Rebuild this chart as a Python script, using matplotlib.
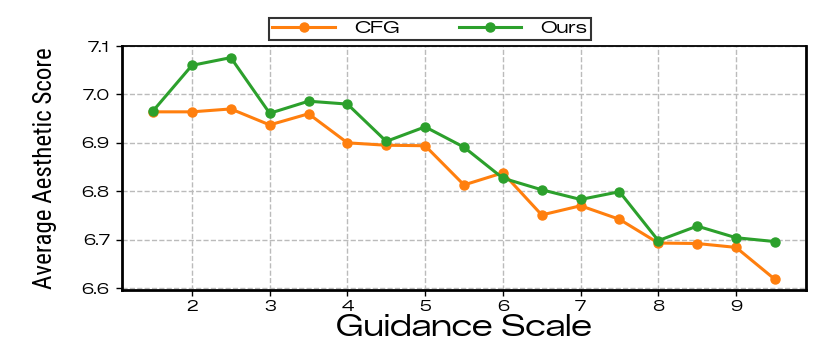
import matplotlib
matplotlib.use("Agg")
import matplotlib.pyplot as plt
from matplotlib import font_manager
from matplotlib.font_manager import FontProperties

guidance = [1.5, 2.0, 2.5, 3.0, 3.5, 4.0, 4.5, 5.0, 5.5, 6.0, 6.5, 7.0, 7.5, 8.0, 8.5, 9.0, 9.5]
cfg = [6.964, 6.964, 6.970, 6.937, 6.960, 6.900, 6.895, 6.894, 6.813, 6.838,
       6.751, 6.770, 6.742, 6.693, 6.692, 6.684, 6.618]
ours = [6.966, 7.060, 7.076, 6.961, 6.986, 6.980, 6.903, 6.933, 6.891, 6.827,
        6.803, 6.783, 6.799, 6.698, 6.728, 6.704, 6.696]
xticks = [2, 3, 4, 5, 6, 7, 8, 9]
yticks = [6.6, 6.7, 6.8, 6.9, 7.0, 7.1]


def font_file(cands, size):
    for name in cands:
        hits = [f for f in font_manager.fontManager.ttflist
                if f.name == name and f.style == "normal"]
        if hits:
            hits.sort(key=lambda f: abs((f.weight if isinstance(f.weight, int) else 400) - 400))
            return FontProperties(fname=hits[0].fname, size=size)
    return FontProperties(family="DejaVu Sans", size=size)


ylab_fp = font_file(["Roboto Condensed", "Open Sans Condensed"], 18)
xlab_fp = font_file(["Zalando Sans Expanded", "Encode Sans Expanded"], 21)
tick_fp = font_file(["Zalando Sans Expanded", "Encode Sans Expanded"], 10.5)
leg_fp = font_file(["Zalando Sans Expanded", "Encode Sans Expanded"], 12.5)

fig = plt.figure(figsize=(8.3, 3.48), dpi=100)
ax = fig.add_axes([122/830, 1 - 290/348, (806-122)/830, (290-46)/348])

ax.plot(guidance, cfg, color="#ff7f0e", lw=2.2, marker="o", ms=6.5, label="CFG", zorder=3)
ax.plot(guidance, ours, color="#2ca02c", lw=2.2, marker="o", ms=6.5, label="Ours", zorder=4)

ax.set_xlim(1.1, 9.9)
ax.set_ylim(6.596, 7.1)
ax.set_xticks(xticks)
ax.set_yticks(yticks)
ax.set_yticklabels([f"{v:.1f}" for v in yticks])
for lab in ax.get_xticklabels() + ax.get_yticklabels():
    lab.set_fontproperties(tick_fp)
ax.tick_params(length=4, width=1)
ax.tick_params(axis="y", pad=5)
ax.grid(True, linestyle="--", color="#bbbbbb", lw=1)
ax.set_axisbelow(True)
for s in ["left", "bottom", "right"]:
    ax.spines[s].set_linewidth(2)
ax.spines["top"].set_linewidth(1.3)

ax.set_xlabel("Guidance Scale", fontproperties=xlab_fp, labelpad=0)
ax.set_ylabel("Average Aesthetic Score", fontproperties=ylab_fp, labelpad=18)

leg = ax.legend(loc="lower center", bbox_to_anchor=(0.45, 1.0), ncol=2, prop=leg_fp,
                frameon=True, fancybox=False, edgecolor="black", borderaxespad=0.35,
                handlelength=3.6, handletextpad=1.1, columnspacing=3.4, borderpad=0.2)
leg.get_frame().set_linewidth(1.5)

fig.savefig("out.png", dpi=100)
